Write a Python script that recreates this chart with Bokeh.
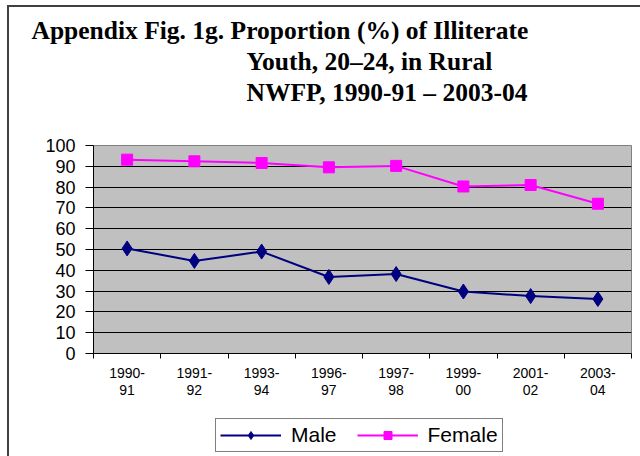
from bokeh.plotting import figure
from bokeh.layouts import column
from bokeh.models import (Range1d, FixedTicker, Legend, LegendItem, Title)
from bokeh.embed import file_html
from bokeh.resources import INLINE

categories = ["1990-\n91", "1991-\n92", "1993-\n94", "1996-\n97",
              "1997-\n98", "1999-\n00", "2001-\n02", "2003-\n04"]
male = [50.5, 44.5, 49.0, 36.8, 38.2, 29.8, 27.6, 26.2]
female = [93.2, 92.4, 91.6, 89.5, 90.2, 80.3, 81.0, 72.0]
y_ticks = list(range(0, 101, 10))
title_lines = ["Appendix Fig. 1g.  Proportion (%) of Illiterate",
               "Youth, 20\u201324, in Rural",
               "NWFP, 1990-91 \u2013 2003-04"]

MALE_C, FEMALE_C = "#000080", "#FF00FF"
n = len(categories)
xs = [i + 0.5 for i in range(n)]

W = 640
FL, FT, FR, FB = 93, 145, 9, 50
H1 = 403          # main figure (frame 145..353, axis below)
H2 = 456 - H1     # legend strip

p = figure(width=W, height=H1, output_backend="svg", toolbar_location=None,
           x_range=Range1d(0, n), y_range=Range1d(0, 100),
           min_border_left=FL, min_border_right=FR,
           min_border_top=FT, min_border_bottom=FB)

p.background_fill_color = "#C0C0C0"
p.border_fill_color = "white"
p.outline_line_color = "#808080"
p.outline_line_width = 1

# x axis: labels at category centres, tick marks at boundaries
p.xaxis.ticker = FixedTicker(ticks=xs, minor_ticks=list(range(n + 1)))
p.xaxis.major_label_overrides = {x: c for x, c in zip(xs, categories)}
p.xaxis.major_tick_out = 0
p.xaxis.major_tick_in = 0
p.xaxis.minor_tick_out = 5
p.xaxis.minor_tick_in = 0
p.xaxis.minor_tick_line_color = "black"
p.xaxis.axis_line_color = "black"
p.xaxis.major_label_text_font = "Liberation Sans"
p.xaxis.major_label_text_font_size = "14px"
p.xaxis.major_label_text_color = "black"
p.xaxis.major_label_standoff = 6
p.xaxis.major_label_text_line_height = 1.1

# y axis
p.yaxis.ticker = FixedTicker(ticks=y_ticks)
p.yaxis.minor_tick_line_color = None
p.yaxis.major_tick_out = 8
p.yaxis.major_tick_in = 0
p.yaxis.axis_line_color = "black"
p.yaxis.major_label_text_font = "Liberation Sans"
p.yaxis.major_label_text_font_size = "18px"
p.yaxis.major_label_text_color = "black"
p.yaxis.major_label_standoff = 10

p.xgrid.grid_line_color = None
p.ygrid.grid_line_color = "black"
p.ygrid.grid_line_width = 1

p.line(xs, male, line_color=MALE_C, line_width=2)
p.scatter(xs, male, marker="diamond", size=15, fill_color=MALE_C,
          line_color=MALE_C)
p.line(xs, female, line_color=FEMALE_C, line_width=2)
p.scatter(xs, female, marker="square", size=11, fill_color=FEMALE_C,
          line_color=FEMALE_C)

# title lines, stacked outward from the frame (spacer nearest the frame)
TFS = "25.5px"
p.add_layout(Title(text=" ", standoff=9, text_font_size=TFS), "above")
standoffs = [0, 0, 0]
offsets = [33 - FL - 2, 247 - FL - 1, 247 - FL - 1]
for t, so, off in reversed(list(zip(title_lines, standoffs, offsets))):
    p.add_layout(Title(text=t, align="left", offset=off, standoff=so,
                       text_font="Liberation Serif", text_font_style="bold",
                       text_font_size=TFS, text_color="black"), "above")

# legend strip (its renderers hold the same data, but lie outside its ranges)
lg = figure(width=W, height=H2, output_backend="svg", toolbar_location=None,
            x_axis_location=None, y_axis_location=None, min_border=0,
            x_range=Range1d(-20, -10), y_range=Range1d(-20, -10))
lg.outline_line_color = None
lg.background_fill_color = "white"
lg.border_fill_color = "white"
lg.xgrid.grid_line_color = None
lg.ygrid.grid_line_color = None
m_l = lg.line(xs, male, line_color=MALE_C, line_width=2)
m_m = lg.scatter(xs, male, marker="diamond", size=12, fill_color=MALE_C,
                 line_color=MALE_C)
f_l = lg.line(xs, female, line_color=FEMALE_C, line_width=2)
f_m = lg.scatter(xs, female, marker="square", size=10, fill_color=FEMALE_C,
                 line_color=FEMALE_C)
legend = Legend(items=[LegendItem(label="Male", renderers=[m_l, m_m]),
                       LegendItem(label="Female", renderers=[f_l, f_m])],
                orientation="horizontal", location=(215 - FL, 4),
                label_text_font="Liberation Sans", label_text_font_size="21px",
                label_text_color="black", glyph_width=61, glyph_height=20,
                border_line_color="black", border_line_width=1,
                padding=4, spacing=20, margin=0, label_standoff=10,
                background_fill_color="white", background_fill_alpha=1)
lg.add_layout(legend)

root = column(p, lg, spacing=0)
root.stylesheets = [
    ":host { position: relative; }"
    ":host::after { content: ''; position: absolute; left: 7px; top: 5px;"
    " width: calc(100% - 7px); height: calc(100% - 5px);"
    " border-left: 2px solid #404040; border-top: 2px solid #404040;"
    " pointer-events: none; z-index: 10; box-sizing: border-box; }"
]

open("out.html", "w").write(file_html(root, INLINE))
